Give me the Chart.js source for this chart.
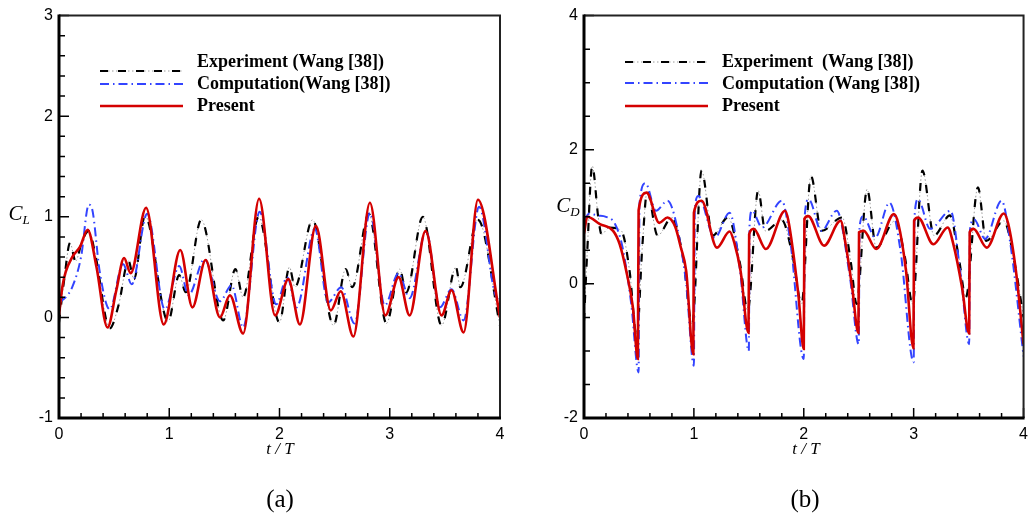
<!DOCTYPE html>
<html>
<head>
<meta charset="utf-8">
<script src="https://cdn.jsdelivr.net/npm/chart.js@4.4.1/dist/chart.umd.min.js"></script>
<style>
  body { margin: 0; background: #fff; }
  #wrap { position: relative; width: 1035px; height: 514px; overflow: hidden; background: #fff; }
  canvas { position: absolute; top: 0; }
  #cl { left: 0; }
  #cd { left: 520px; }
  .t { position: absolute; font-family: "Liberation Serif", "Times New Roman", serif; color: #000; white-space: nowrap; transform: translate(-50%, -50%); }
  .ax { font-style: italic; font-size: 21px; }
  .ax sub { font-size: 13px; vertical-align: -4px; }
  .xt { font-style: italic; font-size: 17px; }
  .cap { font-size: 25px; }
</style>
</head>
<body>
<div id="wrap">
  <canvas id="cl" width="520" height="514"></canvas>
  <canvas id="cd" width="515" height="514"></canvas>
  <div class="t ax" style="left:19px;top:214px">C<sub>L</sub></div>
  <div class="t ax" style="left:568px;top:206px">C<sub>D</sub></div>
  <div class="t xt" style="left:280px;top:449px">t / T</div>
  <div class="t xt" style="left:806px;top:449px">t / T</div>
  <div class="t cap" style="left:280px;top:499px">(a)</div>
  <div class="t cap" style="left:805px;top:499px">(b)</div>
</div>
<script>
// [t/T, value] pairs
const clExperiment = [
  [0, -0.05], [0.05, 0.4], [0.1, 0.74], [0.15, 0.56], [0.21, 0.76], [0.27, 0.86], [0.33, 0.62],
  [0.46, -0.11], [0.54, 0.12], [0.63, 0.56], [0.68, 0.38], [0.78, 1.01], [0.99, -0.04],
  [1.09, 0.42], [1.15, 0.25], [1.29, 0.97], [1.49, -0.03], [1.6, 0.48], [1.67, 0.2], [1.81, 1.0],
  [2.0, -0.05], [2.09, 0.5], [2.14, 0.3], [2.3, 0.97], [2.49, -0.08], [2.6, 0.48], [2.66, 0.3],
  [2.81, 1.03], [2.97, -0.06], [3.09, 0.48], [3.15, 0.25], [3.3, 1.0], [3.47, -0.08], [3.6, 0.5],
  [3.64, 0.3], [3.8, 0.97], [4.0, -0.08]
];
const clComputation = [
  [0, 0.15], [0.06, 0.2], [0.12, 0.3], [0.2, 0.6], [0.27, 1.12], [0.3, 1.08], [0.37, 0.45],
  [0.46, 0.08], [0.58, 0.53], [0.66, 0.33], [0.8, 1.03], [0.96, 0.08], [1.09, 0.51], [1.175, 0.22],
  [1.32, 0.58], [1.46, 0.16], [1.565, 0.32], [1.67, -0.1], [1.82, 1.05], [1.97, 0.13], [2.07, 0.4],
  [2.155, 0.1], [2.32, 0.88], [2.44, 0.15], [2.56, 0.3], [2.68, -0.06], [2.82, 1.04], [2.955, 0.12],
  [3.08, 0.44], [3.18, 0.19], [3.33, 0.86], [3.455, 0.1], [3.56, 0.28], [3.67, -0.03], [3.81, 1.1],
  [3.95, 0.25], [4.0, 0.15]
];
const clPresent = [
  [0, 0.02], [0.03, 0.3], [0.06, 0.45], [0.12, 0.6], [0.19, 0.7], [0.26, 0.87], [0.34, 0.5],
  [0.44, -0.1], [0.52, 0.27], [0.59, 0.59], [0.65, 0.44], [0.79, 1.09], [0.95, -0.07], [1.1, 0.67],
  [1.21, 0.1], [1.33, 0.57], [1.46, 0.0], [1.55, 0.22], [1.67, -0.16], [1.815, 1.18], [1.96, 0.02],
  [2.08, 0.38], [2.185, -0.07], [2.33, 0.91], [2.465, 0.07], [2.555, 0.26], [2.67, -0.19],
  [2.82, 1.14], [2.96, 0.02], [3.08, 0.4], [3.18, 0.02], [3.325, 0.86], [3.47, 0.02], [3.56, 0.27],
  [3.67, -0.15], [3.8, 1.17], [4.0, 0.0]
];

const cdExperiment = [
  [0, -0.55], [0.03, 0.5], [0.075, 1.76], [0.13, 0.99], [0.16, 0.74], [0.23, 0.84], [0.34, 0.79],
  [0.415, 0.19], [0.48, -0.8], [0.53, 0.54], [0.575, 1.38], [0.67, 0.72], [0.8, 0.99], [0.9, 0.4],
  [0.985, -0.6], [1.07, 1.69], [1.17, 0.72], [1.31, 0.99], [1.42, 0.3], [1.49, -0.4], [1.585, 1.39],
  [1.65, 0.79], [1.8, 0.95], [1.9, 0.4], [1.98, -0.3], [2.065, 1.61], [2.16, 0.79], [2.35, 0.99],
  [2.43, 0.3], [2.48, -0.3], [2.576, 1.41], [2.66, 0.54], [2.83, 0.94], [2.92, 0.4], [2.99, -0.3],
  [3.08, 1.69], [3.185, 0.72], [3.33, 1.02], [3.41, 0.4], [3.475, -0.2], [3.585, 1.44], [3.66, 0.64],
  [3.82, 0.94], [3.92, 0.3], [4.0, -0.5]
];
const cdComputation = [
  [0, 0.95], [0.05, 1.05], [0.12, 1.02], [0.2, 1.0], [0.28, 0.9], [0.35, 0.55], [0.43, -0.3],
  [0.497, -1.32], [0.505, 1.2], [0.56, 1.5], [0.655, 1.09], [0.76, 1.24], [0.84, 0.9], [0.93, 0.0],
  [1.0, -1.22], [1.008, 1.1], [1.04, 1.31], [1.19, 0.69], [1.325, 1.06], [1.42, 0.2], [1.5, -1.0],
  [1.507, 0.9], [1.53, 1.09], [1.62, 0.84], [1.8, 1.24], [1.88, 0.6], [2.0, -1.12], [2.008, 1.0],
  [2.045, 1.26], [2.16, 0.79], [2.3, 1.09], [2.42, 0.1], [2.5, -0.9], [2.508, 0.85], [2.54, 1.01],
  [2.65, 0.69], [2.78, 1.21], [2.88, 0.5], [3.0, -1.17], [3.008, 1.0], [3.04, 1.26], [3.15, 0.82],
  [3.335, 1.09], [3.43, 0.1], [3.505, -0.9], [3.512, 0.8], [3.55, 0.96], [3.65, 0.67], [3.8, 1.24],
  [3.88, 0.6], [4.0, -1.08]
];
const cdPresent = [
  [0, 0.75], [0.03, 1.0], [0.145, 0.89], [0.265, 0.79], [0.325, 0.59], [0.385, 0.19], [0.445, -0.35],
  [0.49, -1.12], [0.497, 1.1], [0.57, 1.36], [0.685, 0.91], [0.76, 0.99], [0.83, 0.85], [0.88, 0.55],
  [0.93, 0.19], [0.995, -1.05], [1.0, 1.06], [1.07, 1.24], [1.21, 0.54], [1.325, 0.78], [1.37, 0.6],
  [1.425, 0.19], [1.497, -0.73], [1.503, 0.74], [1.545, 0.82], [1.655, 0.52], [1.83, 1.09],
  [1.86, 0.94], [1.95, -0.15], [2.0, -0.97], [2.006, 0.97], [2.04, 1.01], [2.185, 0.57], [2.335, 0.94],
  [2.38, 0.6], [2.44, -0.05], [2.497, -0.73], [2.503, 0.77], [2.545, 0.79], [2.66, 0.52], [2.82, 1.04],
  [2.86, 0.9], [2.93, 0.2], [2.998, -0.96], [3.004, 0.94], [3.04, 0.99], [3.18, 0.59], [3.31, 0.84],
  [3.36, 0.6], [3.44, -0.05], [3.505, -0.74], [3.51, 0.77], [3.545, 0.82], [3.665, 0.54], [3.82, 1.05],
  [3.86, 0.9], [3.93, 0.2], [4.0, -0.9]
];

const legendLeft = ['Experiment (Wang [38])', 'Computation(Wang [38])', 'Present'];
const legendRight = ['Experiment  (Wang [38])', 'Computation (Wang [38])', 'Present'];

const tickFont = { family: '"Liberation Sans", Arial, sans-serif', size: 16 };

function line(points, color, width, dash, order) {
    return {
        data: points.map(p => ({ x: p[0], y: p[1] })),
        borderColor: color,
        borderWidth: width,
        borderDash: dash,
        pointRadius: 0,
        fill: false,
        cubicInterpolationMode: 'monotone',
        order: order
    };
}

// experiment = grey dotted underlay + black dashes, computation = blue dash-dot, present = solid red
function datasets(exp, comp, pres) {
    return [
        line(exp, '#000000', 2.2, [8, 10], 3),
        line(comp, '#3344ff', 2, [9, 4, 1.5, 4], 2),
        line(pres, '#d40000', 2.6, [], 1),
        line(exp, '#9a9a9a', 1, [1.5, 2.5], 4)
    ];
}

// ticks pointing into the plot, plus the frame
const frame = {
    id: 'frame',
    afterDatasetsDraw(chart, args, o) {
        const { ctx, chartArea: a, scales: { x, y } } = chart;
        ctx.save();
        ctx.strokeStyle = '#000';
        ctx.lineWidth = 1.5;
        ctx.beginPath();
        for (let i = 0; x.min + i * 0.2 <= x.max + 1e-9; i++) {
            const px = x.getPixelForValue(x.min + i * 0.2);
            ctx.moveTo(px, a.bottom);
            ctx.lineTo(px, a.bottom - (i % 5 === 0 ? 10 : 5));
        }
        const n = Math.round(o.yMajor / o.yMinor);
        for (let i = 0; y.min + i * o.yMinor <= y.max + 1e-9; i++) {
            const py = y.getPixelForValue(y.min + i * o.yMinor);
            ctx.moveTo(a.left, py);
            ctx.lineTo(a.left + (i % n === 0 ? 10 : 6), py);
        }
        ctx.stroke();

        ctx.lineWidth = 2;
        ctx.strokeStyle = '#222';
        ctx.beginPath();
        ctx.moveTo(a.left, a.top);
        ctx.lineTo(a.right, a.top);
        ctx.lineTo(a.right, a.bottom);
        ctx.stroke();
        ctx.lineWidth = 3;
        ctx.strokeStyle = '#000';
        ctx.beginPath();
        ctx.moveTo(a.left, a.top - 1);
        ctx.lineTo(a.left, a.bottom);
        ctx.lineTo(a.right + 1, a.bottom);
        ctx.stroke();
        ctx.restore();
    }
};

const insideLegend = {
    id: 'insideLegend',
    afterDraw(chart, args, o) {
        const { ctx, chartArea: a } = chart;
        const ds = chart.data.datasets;
        const x0 = a.left + 41, x1 = a.left + 124;
        ctx.save();
        o.labels.forEach((text, i) => {
            const ly = o.lineY[i];
            const styles = i === 0 ? [ds[3], ds[0]] : [ds[i]];
            styles.forEach(s => {
                ctx.strokeStyle = s.borderColor;
                ctx.lineWidth = s.borderWidth;
                ctx.setLineDash(s.borderDash);
                ctx.beginPath();
                ctx.moveTo(x0, ly);
                ctx.lineTo(x1, ly);
                ctx.stroke();
            });
            ctx.setLineDash([]);
            ctx.fillStyle = '#000';
            ctx.font = 'bold 18px "Liberation Serif", "Times New Roman", serif';
            ctx.textBaseline = 'middle';
            ctx.fillText(text, a.left + 138, o.textY[i]);
        });
        ctx.restore();
    }
};

function makeChart(id, sets, yMin, yMax, yMajor, yMinor, yWidth, padRight, labels, lineY) {
    new Chart(document.getElementById(id), {
        type: 'line',
        data: { datasets: sets },
        options: {
            responsive: false,
            animation: false,
            layout: { padding: { top: 15, right: padRight, left: 0, bottom: 0 } },
            plugins: {
                legend: { display: false },
                tooltip: { enabled: false },
                frame: { yMajor: yMajor, yMinor: yMinor },
                insideLegend: { labels: labels, lineY: lineY, textY: [62, 84, 106] }
            },
            scales: {
                x: {
                    type: 'linear', min: 0, max: 4,
                    grid: { display: false, drawTicks: false },
                    border: { display: false },
                    ticks: { stepSize: 1, autoSkip: false, maxRotation: 0, padding: 7, color: '#000', font: tickFont },
                    afterFit: s => { s.height = 96; }
                },
                y: {
                    type: 'linear', min: yMin, max: yMax,
                    grid: { display: false, drawTicks: false },
                    border: { display: false },
                    ticks: { stepSize: yMajor, padding: 6, color: '#000', font: tickFont },
                    afterFit: s => { s.width = yWidth; }
                }
            }
        },
        plugins: [frame, insideLegend]
    });
}

makeChart('cl', datasets(clExperiment, clComputation, clPresent), -1, 3, 1, 0.2, 59, 20, legendLeft, [71, 84, 106]);
makeChart('cd', datasets(cdExperiment, cdComputation, cdPresent), -2, 4, 2, 0.5, 64, 8, legendRight, [62, 83, 106]);
</script>
</body>
</html>
